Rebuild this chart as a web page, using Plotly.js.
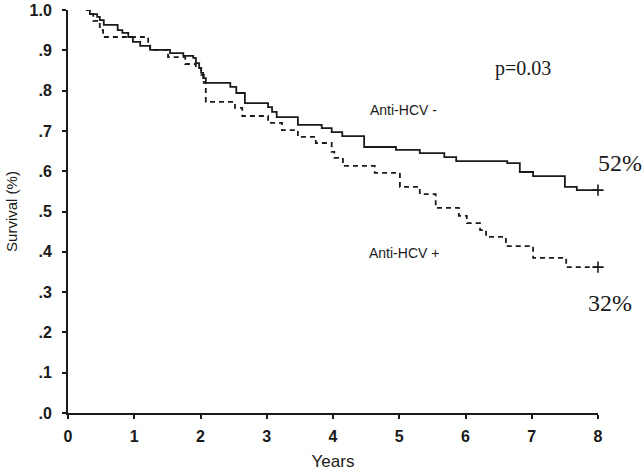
<!DOCTYPE html>
<html>
<head>
<meta charset="utf-8">
<script src="https://cdn.plot.ly/plotly-3.0.1.min.js"></script>
<style>html,body{margin:0;padding:0;background:#fff;}#chart{width:644px;height:471px;}</style>
</head>
<body>
<div id="chart"></div>
<script>
// Anti-HCV negative (solid) : step times (years) and survival after each step
var negTimes = [0.27,0.33,0.44,0.48,0.54,0.75,0.82,0.91,0.98,1.09,1.24,1.54,1.74,1.89,1.93,1.98,2.01,2.04,2.08,2.45,2.54,2.67,3.02,3.08,3.15,3.47,3.83,3.98,4.14,4.47,4.95,5.31,5.68,5.86,6.63,6.82,7.02,7.50,7.68,8.0];
var negSurv  = [1.0,0.990,0.983,0.975,0.963,0.950,0.943,0.933,0.921,0.911,0.901,0.893,0.886,0.881,0.868,0.856,0.844,0.831,0.819,0.809,0.794,0.769,0.759,0.747,0.734,0.715,0.707,0.697,0.687,0.660,0.653,0.645,0.635,0.625,0.620,0.598,0.588,0.561,0.553,0.553];
// Anti-HCV positive (dashed)
var posTimes = [0.27,0.33,0.38,0.48,0.53,1.21,1.24,1.51,1.77,1.93,2.01,2.05,2.08,2.52,2.63,3.02,3.23,3.47,3.74,3.98,4.02,4.15,4.63,5.01,5.31,5.55,5.90,6.02,6.22,6.31,6.61,7.02,7.52,8.0];
var posSurv  = [1.0,0.990,0.973,0.950,0.933,0.918,0.901,0.883,0.866,0.856,0.839,0.819,0.772,0.757,0.737,0.720,0.702,0.685,0.670,0.648,0.633,0.613,0.596,0.561,0.543,0.509,0.489,0.471,0.454,0.437,0.414,0.385,0.362,0.362];

var xTicks = [0,1,2,3,4,5,6,7,8];
var xTickText = ['0','1','2','3','4','5','6','7','8'];
var yTicks = [0,0.1,0.2,0.3,0.4,0.5,0.6,0.7,0.8,0.9,1.0];
var yTickText = ['.0','.1','.2','.3','.4','.5','.6','.7','.8','.9','1.0'];

var ink = '#1a1a1a';
var traces = [
  {x: negTimes, y: negSurv, mode:'lines', line:{shape:'hv', color:ink, width:1.8}, hoverinfo:'skip'},
  {x: posTimes, y: posSurv, mode:'lines', line:{shape:'hv', color:ink, width:1.8, dash:'5px,4px'}, hoverinfo:'skip'},
  {x: [negTimes[negTimes.length-1], posTimes[posTimes.length-1]],
   y: [negSurv[negSurv.length-1], posSurv[posSurv.length-1]],
   mode:'markers', cliponaxis:false,
   marker:{symbol:'cross-thin-open', size:8, color:ink, line:{color:ink, width:1.6}}, hoverinfo:'skip'}
];

function bold(arr){ return arr.map(function(s){ return '<b>'+s+'</b>'; }); }
var sans = 'Arial, "Liberation Sans", sans-serif';
var serif = '"Liberation Serif", "Times New Roman", serif';
var axisFont = {family:sans, size:16, color:ink};
var layout = {
  width:644, height:471,
  margin:{l:68, r:46, t:10, b:58},
  paper_bgcolor:'#fff', plot_bgcolor:'#fff',
  showlegend:false,
  xaxis:{range:[0,8], tickvals:xTicks, ticktext:bold(xTickText), showgrid:false, zeroline:false,
    showline:true, linecolor:ink, linewidth:2, ticks:'outside', ticklen:4, tickwidth:2, tickcolor:ink,
    tickfont:axisFont, ticklabelstandoff:4,
    title:{text:'Years', font:{family:sans, size:17, color:ink}, standoff:12}},
  yaxis:{range:[0,1], tickvals:yTicks, ticktext:bold(yTickText), showgrid:false, zeroline:false,
    showline:true, linecolor:ink, linewidth:2, ticks:'outside', ticklen:4, tickwidth:2, tickcolor:ink,
    tickfont:axisFont, ticklabelstandoff:7,
    title:{text:'Survival (%)', font:{family:sans, size:15, color:ink}, standoff:8}},
  annotations:[
    {x:6.87, y:0.856, xref:'x', yref:'y', xanchor:'center', yanchor:'middle', text:'p=0.03', showarrow:false, font:{family:serif, size:20, color:ink}},
    {x:5.07, y:0.752, xref:'x', yref:'y', xanchor:'center', yanchor:'middle', text:'Anti-HCV -', showarrow:false, font:{family:sans, size:14, color:ink}},
    {x:5.07, y:0.397, xref:'x', yref:'y', xanchor:'center', yanchor:'middle', text:'Anti-HCV +', showarrow:false, font:{family:sans, size:14, color:ink}},
    {x:1.0415, y:0.620, xref:'paper', yref:'paper', xanchor:'center', yanchor:'middle', text:'52%', showarrow:false, font:{family:serif, size:24, color:ink}},
    {x:1.0226, y:0.273, xref:'paper', yref:'paper', xanchor:'center', yanchor:'middle', text:'32%', showarrow:false, font:{family:serif, size:24, color:ink}}
  ]
};
Plotly.newPlot('chart', traces, layout, {staticPlot:true, displayModeBar:false});
</script>
</body>
</html>
